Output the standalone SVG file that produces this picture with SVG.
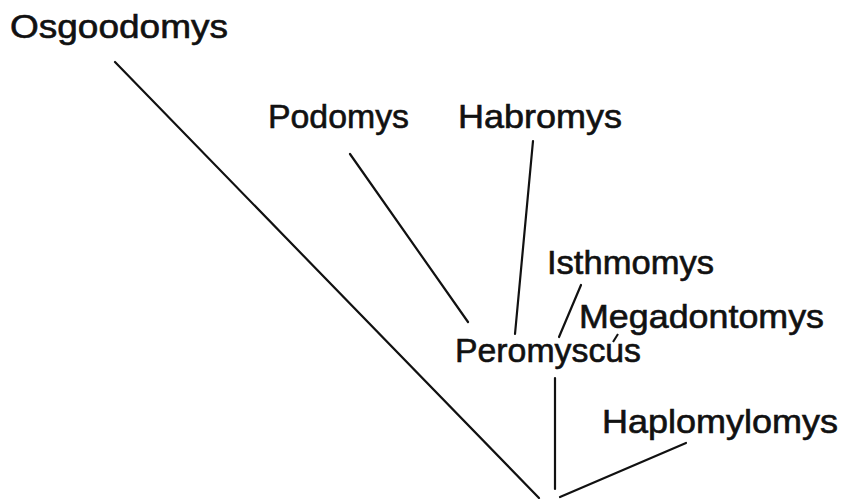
<svg xmlns="http://www.w3.org/2000/svg" width="846" height="499" viewBox="0 0 846 499">
<style>
text{font-family:"Liberation Sans","DejaVu Sans",sans-serif;font-size:33px;fill:#111;stroke:#111;stroke-width:0.6}
.c line{stroke:#111;stroke-width:2.2;stroke-linecap:round}
</style>
<rect width="846" height="499" fill="#fff"/>
<g id="osgoodomys"><text x="10" y="38" textLength="218" lengthAdjust="spacingAndGlyphs">Osgoodomys</text></g>
<g id="podomys"><text x="268" y="128" textLength="141" lengthAdjust="spacingAndGlyphs">Podomys</text></g>
<g id="habromys"><text x="458" y="128" textLength="164" lengthAdjust="spacingAndGlyphs">Habromys</text></g>
<g id="isthmomys"><text x="547" y="274" textLength="167" lengthAdjust="spacingAndGlyphs">Isthmomys</text></g>
<g id="megadontomys"><text x="579" y="328" textLength="245" lengthAdjust="spacingAndGlyphs">Megadontomys</text></g>
<g id="peromyscus"><text x="455" y="362" textLength="186" lengthAdjust="spacingAndGlyphs">Peromyscus</text><line x1="613" y1="342" x2="618" y2="334" stroke="#111" stroke-width="2"/></g>
<g id="haplomylomys"><text x="602" y="433" textLength="236" lengthAdjust="spacingAndGlyphs">Haplomylomys</text></g>
<g class="c" id="connectors">
<line x1="115" y1="62" x2="539" y2="498"/>
<line x1="350" y1="154" x2="468" y2="322"/>
<line x1="533" y1="141" x2="515" y2="334"/>
<line x1="581" y1="285" x2="559" y2="337"/>
<line x1="555" y1="378" x2="555" y2="489"/>
<line x1="560" y1="497" x2="686" y2="443"/>
</g>
</svg>
